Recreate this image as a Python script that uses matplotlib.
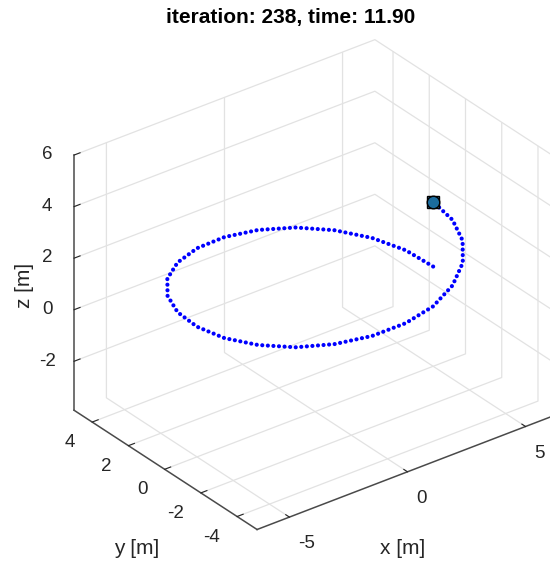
import matplotlib
matplotlib.use("Agg")
import matplotlib.pyplot as plt

plt.rcParams["font.family"] = ["Liberation Sans", "DejaVu Sans"]
plt.rcParams["axes.unicode_minus"] = False

# helix trajectory, one waypoint every 15 degrees [m]
traj_x = [5.00, 4.83, 4.33, 3.54, 2.50, 1.29, 0.00, -1.29, -2.50, -3.54, -4.33, -4.83, -5.00,
          -4.83, -4.33, -3.54, -2.50, -1.29, 0.00, 1.29, 2.50, 3.54, 4.33, 4.83, 5.00]
traj_y = [0.00, 1.29, 2.50, 3.54, 4.33, 4.83, 5.00, 4.83, 4.33, 3.54, 2.50, 1.29, 0.00,
          -1.29, -2.50, -3.54, -4.33, -4.83, -5.00, -4.83, -4.33, -3.54, -2.50, -1.29, 0.00]
traj_z = [-0.03, 0.07, 0.17, 0.27, 0.38, 0.48, 0.58, 0.68, 0.78, 0.88, 0.97, 1.06, 1.15,
          1.24, 1.35, 1.46, 1.58, 1.70, 1.82, 1.94, 2.10, 2.25, 2.36, 2.43, 2.48]

x_ticks = [-5, 0, 5]
y_ticks = [-4, -2, 0, 2, 4]
z_ticks = [-2, 0, 2, 4, 6]
x_lim = (-6.37, 6.37)
y_lim = (-5.1, 5.0)
z_lim = (-3.9, 6.0)

iteration = 238
sim_time = 11.90

AX_COLOR = "#4a4a4a"
TXT_COLOR = "#262626"


def main():
    fig = plt.figure(figsize=(5.5, 5.62), dpi=100)
    ax = fig.add_axes([0.061, -0.0196, 1.0, 1.0], projection="3d")
    ax.set_proj_type("ortho")
    ax.view_init(elev=30, azim=-127.5)
    ax.set_xlim(*x_lim)
    ax.set_ylim(*y_lim)
    ax.set_zlim(*z_lim)
    ax.set_box_aspect((x_lim[1] - x_lim[0], y_lim[1] - y_lim[0], z_lim[1] - z_lim[0]), zoom=1.0)

    ax.plot(traj_x, traj_y, traj_z, color="#0000ff", lw=3.0,
            linestyle=(0, (0.01, 1.33)), dash_capstyle="round")
    # quadrotor at its current position
    ax.plot([traj_x[-1]], [traj_y[-1]], [traj_z[-1]], marker="s", ms=9,
            mfc="#3d8cc0", mec="black", mew=1.0)
    ax.plot([traj_x[-1]], [traj_y[-1]], [traj_z[-1]], marker="o", ms=9,
            mfc="#1b6c9e", mec="black", mew=1.0)

    ax.set_xticks(x_ticks)
    ax.set_yticks(y_ticks)
    ax.set_zticks(z_ticks)
    for axis in (ax.xaxis, ax.yaxis, ax.zaxis):
        axis.set_pane_color((1, 1, 1, 0))
        axis.pane.set_edgecolor((1, 1, 1, 0))
        axis._axinfo["grid"].update(color="#e2e2e2", linewidth=0.9)
        axis._axinfo["tick"].update(inward_factor=0.0, outward_factor=0.25)
        axis.line.set_color(AX_COLOR)
        axis.line.set_linewidth(1.1)
    ax.tick_params(labelsize=13.5, colors=TXT_COLOR)
    ax.tick_params(axis="x", pad=2.0)

    # MATLAB-like placement of the tick labels
    for t in ax.xaxis.get_major_ticks():
        t.label1.set_horizontalalignment("left")
    for t in ax.yaxis.get_major_ticks():
        t.label1.set_horizontalalignment("right")
        t.label1.set_verticalalignment("center")
    for t in ax.zaxis.get_major_ticks():
        t.label1.set_verticalalignment("center")

    fig.text(291 / 550, 1 - 17 / 562, f"iteration: {iteration}, time: {sim_time:.2f}",
             ha="center", va="center", fontsize=15, fontweight="bold", color="black")
    fig.text(403 / 550, 1 - 548 / 562, "x [m]", ha="center", va="center",
             fontsize=15, color=TXT_COLOR)
    fig.text(137 / 550, 1 - 548 / 562, "y [m]", ha="center", va="center",
             fontsize=15, color=TXT_COLOR)
    fig.text(25 / 550, 1 - 285 / 562, "z [m]", ha="center", va="center",
             fontsize=15, rotation=90, color=TXT_COLOR)

    fig.savefig("out.png", dpi=100)


if __name__ == "__main__":
    main()
